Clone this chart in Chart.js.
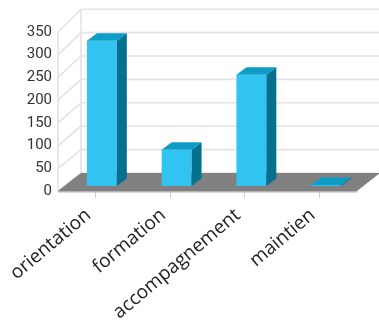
<!DOCTYPE html>
<html>
<head>
<meta charset="utf-8">
<script src="https://cdn.jsdelivr.net/npm/chart.js@4.4.1/dist/chart.umd.min.js"></script>
<style>
html, body { margin: 0; padding: 0; background: #fff; }
#wrap { width: 379px; height: 320px; }
</style>
</head>
<body>
<div id="wrap"><canvas id="barChart"></canvas></div>
<script>
// data
var categories = ['orientation', 'formation', 'accompagnement', 'maintien'];
var counts = [320, 80, 245, 2];
var yTicks = [0, 50, 100, 150, 200, 250, 300, 350];

// fake 3d: offset of the back wall, where the bars sit in the box, and bar depth
var depthX = 23, depthY = -18;
var backStretch = 1.03;
var barShiftX = 6.5, barShiftY = -5;
var barDepthX = 10, barDepthY = -7.5;

var frontColor = '#31c4f1';
var sideColor = '#05708f';
var topColor = '#0c9cc6';
var wallLine = '#e3e3e3';
var floorColor = '#808080';

var box3d = {
    id: 'box3d',
    beforeDatasetsDraw: function(chart) {
        var ctx = chart.ctx;
        var area = chart.chartArea;
        var y = chart.scales.y;
        var fb = y.getPixelForValue(0);
        var backY = function(v) {
            return fb + depthY - (fb - y.getPixelForValue(v)) * backStretch;
        };
        var bl = area.left + depthX, br = area.right + depthX;
        var top = yTicks[yTicks.length - 1];

        ctx.save();
        ctx.strokeStyle = wallLine;
        ctx.lineWidth = 1.6;

        // back wall grid
        yTicks.forEach(function(v) {
            ctx.beginPath();
            ctx.moveTo(bl, backY(v));
            ctx.lineTo(br, backY(v));
            ctx.stroke();
        });
        // left wall lines
        yTicks.forEach(function(v) {
            ctx.beginPath();
            ctx.moveTo(area.left, y.getPixelForValue(v));
            ctx.lineTo(bl, backY(v));
            ctx.stroke();
        });
        ctx.beginPath();
        ctx.moveTo(bl, backY(top));
        ctx.lineTo(bl, backY(0));
        ctx.moveTo(area.left, y.getPixelForValue(top));
        ctx.lineTo(area.left, fb);
        ctx.stroke();

        // floor
        ctx.fillStyle = floorColor;
        ctx.beginPath();
        ctx.moveTo(area.left, fb);
        ctx.lineTo(area.right, fb);
        ctx.lineTo(br, fb + depthY);
        ctx.lineTo(bl, fb + depthY);
        ctx.closePath();
        ctx.fill();
        ctx.fillStyle = '#b4b4b4';
        ctx.fillRect(area.left, fb, area.right - area.left, 1.5);
        ctx.restore();

        // bars are drawn a little inside the box
        ctx.save();
        ctx.translate(barShiftX, barShiftY);
    },
    afterDatasetsDraw: function(chart) {
        var ctx = chart.ctx;
        ctx.restore();
        ctx.save();
        chart.getDatasetMeta(0).data.forEach(function(bar) {
            var p = bar.getProps(['x', 'y', 'base', 'width'], true);
            var x1 = p.x - p.width / 2 + barShiftX;
            var x2 = p.x + p.width / 2 + barShiftX;
            var t = p.y + barShiftY;
            var b = p.base + barShiftY;
            // side face
            ctx.fillStyle = sideColor;
            ctx.beginPath();
            ctx.moveTo(x2, t);
            ctx.lineTo(x2 + barDepthX, t + barDepthY);
            ctx.lineTo(x2 + barDepthX, b + barDepthY);
            ctx.lineTo(x2, b);
            ctx.closePath();
            ctx.fill();
            // top face
            ctx.fillStyle = topColor;
            ctx.beginPath();
            ctx.moveTo(x1, t);
            ctx.lineTo(x2, t);
            ctx.lineTo(x2 + barDepthX, t + barDepthY);
            ctx.lineTo(x1 + barDepthX, t + barDepthY);
            ctx.closePath();
            ctx.fill();
        });
        ctx.restore();
    }
};

var ctx = document.getElementById('barChart').getContext('2d');
var barChart = new Chart(ctx, {
    type: 'bar',
    data: {
        labels: categories,
        datasets: [{
            data: counts,
            backgroundColor: frontColor,
            borderWidth: 0,
            barPercentage: 0.4,
            categoryPercentage: 1.0
        }]
    },
    options: {
        responsive: true,
        maintainAspectRatio: false,
        animation: false,
        layout: { padding: { top: 32, right: 22, left: 0, bottom: 0 } },
        plugins: {
            legend: { display: false },
            tooltip: { enabled: false }
        },
        scales: {
            x: {
                afterFit: function(s) { s.height = 129; },
                border: { display: false },
                grid: {
                    offset: false,
                    drawOnChartArea: false,
                    tickLength: 7,
                    color: '#cfcfcf'
                },
                ticks: {
                    minRotation: 40,
                    maxRotation: 40,
                    padding: 6,
                    labelOffset: -7,
                    color: '#222',
                    font: { family: 'Open Sans', size: 19 }
                }
            },
            y: {
                min: 0,
                max: 350,
                afterFit: function(s) { s.width = 58; },
                afterBuildTicks: function(s) {
                    s.ticks = yTicks.map(function(v) { return { value: v }; });
                },
                border: { display: false },
                grid: { display: false, drawTicks: false },
                ticks: {
                    padding: 6,
                    color: '#333',
                    font: { family: 'Roboto', size: 15 }
                }
            }
        }
    },
    plugins: [box3d]
});
</script>
</body>
</html>
